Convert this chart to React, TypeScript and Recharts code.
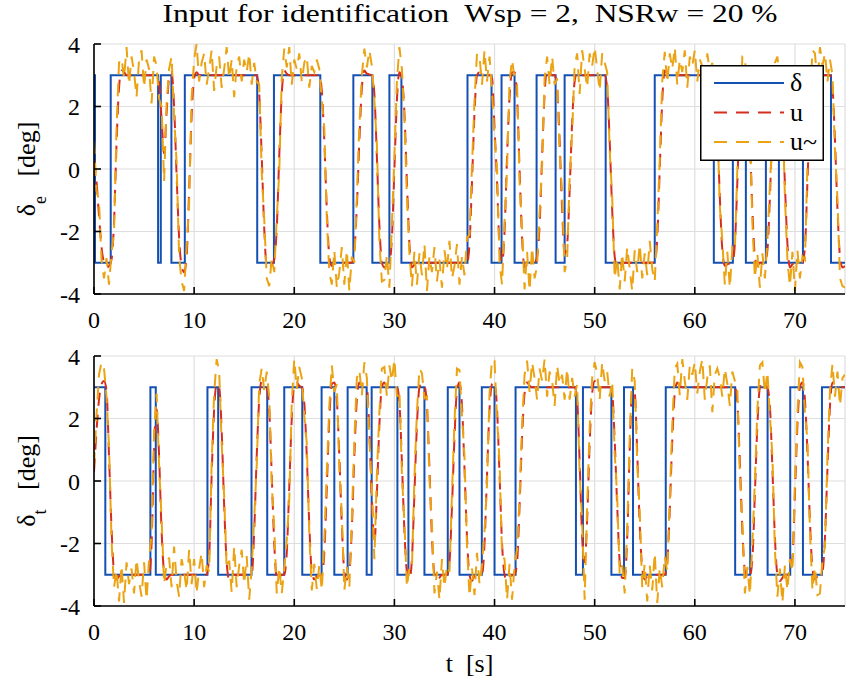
import { LineChart, Line, XAxis, YAxis, CartesianGrid } from 'recharts';

const FONT = "'Liberation Serif', 'Times New Roman', 'DejaVu Serif', serif";
const BLUE = '#1450b4';
const RED = '#d62d1c';
const ORANGE = '#eca313';
const GRID = '#dedede';
const DASH = '13 9';

const TIME_TICKS = [0, 10, 20, 30, 40, 50, 60, 70];
const DEG_TICKS = [-4, -2, 0, 2, 4];
const NOISE_DT = 0.25; // sample step of the noisy input

// delta_e : [switch time, level]
const deltaE = [
  [0, 3], [0.1, -3], [1.67, 3], [6.4, -3], [6.67, 3], [7.73, -3], [9.07, 3], [16.3, -3],
  [17.97, 3], [22.6, -3], [25.9, 3], [27.8, -3], [29.5, 3], [30.7, -3], [37.3, 3], [39.7, -3],
  [40.7, 3], [42.0, -3], [44.2, 3], [46.1, -3], [47.0, 3], [51.1, -3], [56.0, 3], [61.9, -3],
  [63.8, 3], [65.1, -3], [67.1, 3], [68.4, -3], [70.8, 3], [73.6, -3], [75, -3],
];

// u (elevator), [t, value]
const uE = [
  [0, 0.3], [0.25, -0.4], [0.5, -1.5], [0.75, -2.5], [1, -3.0], [1.25, -3.15], [1.5, -3.1], [1.75, -2.9],
  [2, -1.7], [2.25, 0.8], [2.5, 2.6], [2.75, 3.15], [3, 3.1], [3.25, 3.0], [6.25, 3.0], [6.5, 2.75],
  [6.75, 1.6], [7, 0.5], [7.25, 1.8], [7.5, 2.9], [7.75, 3.1], [8, 2.0], [8.25, -0.2], [8.5, -2.2],
  [8.75, -3.1], [9, -3.3], [9.25, -2.8], [9.5, -0.7], [9.75, 1.7], [10, 2.9], [10.25, 3.1], [10.5, 3.0],
  [16.25, 3.0], [16.5, 2.4], [16.75, 0.4], [17, -1.9], [17.25, -3.1], [17.5, -3.15], [17.75, -3.05], [18, -2.9],
  [18.25, -1.9], [18.5, 0.4], [18.75, 2.4], [19, 3.15], [19.25, 3.05], [19.5, 3.0], [22.5, 3.0], [22.75, 2.5],
  [23, 0.9], [23.25, -1.3], [23.5, -2.8], [23.75, -3.1], [24, -3.0], [25.75, -3.0], [26, -2.6], [26.25, -1.2],
  [26.5, 0.9], [26.75, 2.6], [27, 3.15], [27.25, 3.05], [27.75, 3.0], [28, 2.4], [28.25, 0.4], [28.5, -1.8],
  [28.75, -3.0], [29, -3.15], [29.25, -3.05], [29.5, -3.0], [29.75, -2.2], [30, 0.0], [30.25, 2.2], [30.5, 3.1],
  [30.75, 2.9], [31, 1.8], [31.25, -0.4], [31.5, -2.4], [31.75, -3.15], [32, -3.05], [32.25, -3.0], [37.25, -3.0],
  [37.5, -2.4], [37.75, -0.4], [38, 1.8], [38.25, 3.0], [38.5, 3.1], [38.75, 3.0], [39.5, 3.0], [39.75, 2.9],
  [40, 1.3], [40.25, -0.4], [40.5, -2.5], [40.75, -3.0], [41, -2.0], [41.25, 0.4], [41.5, 2.3], [41.75, 3.1],
  [42, 3.1], [42.25, 2.3], [42.5, 0.0], [42.75, -2.2], [43, -3.15], [43.25, -3.05], [43.5, -3.0], [44, -3.0],
  [44.25, -2.8], [44.5, -1.8], [44.75, 0.4], [45, 2.4], [45.25, 3.2], [45.5, 3.1], [45.75, 3.0], [46, 3.0],
  [46.25, 2.6], [46.5, 0.9], [46.75, -1.3], [47, -2.7], [47.25, -2.4], [47.5, -0.7], [47.75, 1.5], [48, 2.8],
  [48.25, 3.1], [48.5, 3.0], [51, 3.0], [51.25, 2.6], [51.5, 0.9], [51.75, -1.3], [52, -2.8], [52.25, -3.15],
  [52.5, -3.05], [52.75, -3.0], [56, -3.0], [56.25, -2.2], [56.5, 0.0], [56.75, 2.2], [57, 3.15], [57.25, 3.05],
  [57.5, 3.0], [61.75, 3.0], [62, 2.7], [62.25, 1.3], [62.5, -0.9], [62.75, -2.6], [63, -3.1], [63.25, -3.05],
  [63.75, -3.0], [64, -2.4], [64.25, -0.4], [64.5, 1.8], [64.75, 3.0], [65, 3.1], [65.25, 2.6], [65.5, 0.9],
  [65.75, -1.3], [66, -2.8], [66.25, -3.1], [66.5, -3.0], [67, -3.0], [67.25, -2.6], [67.5, -0.9], [67.75, 1.3],
  [68, 2.8], [68.25, 3.1], [68.5, 2.9], [68.75, 1.6], [69, -0.5], [69.25, -2.4], [69.5, -3.15], [69.75, -3.05],
  [70, -3.0], [70.75, -3.0], [71, -2.5], [71.25, -0.4], [71.5, 1.8], [71.75, 3.0], [72, 3.1], [72.25, 3.0],
  [73.5, 3.0], [73.75, 2.6], [74, 0.9], [74.25, -1.3], [74.5, -2.8], [74.75, -3.15], [75, -3.1],
];

// u~ (elevator), one row = 2.5 s
const uNoisyE = [
  [0.9, -0.7, -1.0, -2.9, -3.5, -2.85, -3.7, -2.7, -2.0, 1.3],
  [3.4, 3.55, 2.9, 3.9, 2.7, 3.6, 3.1, 2.3, 3.5, 3.8],
  [2.6, 3.5, 3.2, 2.1, 3.6, 3.3, 2.25, 2.0, -0.4, 2.1],
  [3.2, 3.6, 1.7, 0.2, -2.8, -3.6, -3.9, -2.5, -1.1, 2.3],
  [3.5, 4.0, 2.8, 3.4, 3.7, 2.7, 3.2, 3.8, 2.5, 3.3],
  [3.6, 2.6, 3.2, 3.9, 2.9, 3.5, 2.3, 3.3, 3.6, 2.8],
  [3.5, 3.1, 3.7, 2.7, 3.4, 2.8, 2.7, -0.1, -1.6, -3.5],
  [-3.75, -2.85, -3.3, -1.6, -0.1, 2.9, 3.85, 3.25, 3.9, 2.7],
  [3.5, 3.2, 3.7, 2.8, 3.4, 3.6, 2.6, 3.3, 3.1, 3.5],
  [3.2, 2.2, 1.3, -1.6, -3.3, -3.7, -2.6, -3.8, -3.3, -2.5],
  [-3.7, -2.6, -3.9, -2.8, -3.0, -0.9, 1.4, 3.0, 3.85, 3.25],
  [3.8, 3.3, 2.2, 0.8, -2.3, -3.6, -3.55, -2.75, -3.8, -1.8],
  [0.4, 2.8, 3.9, 3.2, 1.6, -0.9, -2.7, -3.75, -2.65, -3.7],
  [-2.7, -3.4, -2.4, -3.9, -2.8, -3.3, -2.5, -3.6, -2.9, -3.8],
  [-2.6, -3.2, -2.3, -3.5, -3.1, -2.4, -3.7, -2.8, -3.4, -2.2],
  [-2.1, 0.1, 2.2, 3.7, 3.6, 2.7, 3.8, 2.8, 3.6, 2.5],
  [1.0, 0.0, -3.0, -3.7, -1.7, 0.0, 2.8, 3.5, 2.9, 2.7],
  [-0.4, -1.9, -3.85, -2.65, -3.9, -2.5, -3.5, -3.1, -1.4, 0.1],
  [2.9, 3.6, 2.7, 3.6, 2.7, 2.9, 0.5, -0.8, -3.3, -2.9],
  [-0.3, 1.2, 3.3, 3.7, 2.4, 3.8, 3.2, 2.6, 3.7, 3.3],
  [3.9, 3.2, 2.5, 3.7, 3.4, 3.1, 0.6, -0.9, -3.5, -2.85],
  [-3.85, -2.7, -3.6, -2.5, -3.2, -3.9, -2.6, -3.3, -2.4, -3.5],
  [-2.7, -3.4, -2.3, -3.2, -3.6, -1.8, 0.3, 2.8, 3.75, 2.75],
  [3.7, 3.2, 3.9, 2.7, 3.5, 3.1, 3.8, 2.6, 3.6, 3.3],
  [3.8, 2.8, 3.5, 3.3, 2.5, 3.7, 3.1, 3.4, 2.4, 1.5],
  [-1.2, -2.3, -3.7, -2.65, -3.8, -2.5, -2.6, 0.0, 1.4, 3.6],
  [3.6, 2.3, 1.3, -1.7, -3.5, -2.7, -3.8, -2.7, -3.5, -2.3],
  [-0.5, 1.0, 3.4, 3.6, 2.6, 2.0, -0.9, -2.9, -3.75, -2.65],
  [-3.9, -2.6, -3.5, -2.8, -2.9, 0.1, 2.1, 3.8, 3.7, 2.7],
  [3.9, 3.3, 3.7, 2.8, 3.5, 3.0, 0.6, -1.0, -3.5, -3.75],
  [-3.8],
];

// delta_t : [switch time, level]
const deltaT = [
  [0, 3], [1.13, -3], [5.63, 3], [6.17, -3], [11.33, 3], [12.4, -3], [15.73, 3], [17.3, -3],
  [19.0, 3], [20.8, -3], [22.73, 3], [24.0, -3], [25.33, 3], [27.23, -3], [27.73, 3], [30.3, -3],
  [31.4, 3], [33.0, -3], [35.33, 3], [36.5, -3], [38.73, 3], [40.0, -3], [42.1, 3], [48.13, -3],
  [48.83, 3], [51.67, -3], [52.93, 3], [53.83, -3], [57.1, 3], [64.03, -3], [65.53, 3], [67.27, -3],
  [69.53, 3], [70.8, -3], [72.7, 3], [75, 3],
];

const uT = [
  [0, 0.3], [0.25, 1.6], [0.5, 2.6], [0.75, 3.1], [1, 3.2], [1.25, 2.9], [1.5, 0.8], [1.75, -1.5],
  [2, -2.9], [2.25, -3.15], [2.5, -3.05], [2.75, -3.0], [5.5, -3.0], [5.75, -2.0], [6, 1.0], [6.25, 2.3],
  [6.5, 0.8], [6.75, -1.6], [7, -2.9], [7.25, -3.15], [7.5, -3.05], [7.75, -3.0], [11.25, -3.0], [11.5, -2.4],
  [11.75, 0.2], [12, 2.3], [12.25, 3.1], [12.5, 3.0], [12.75, 1.6], [13, -0.8], [13.25, -2.6], [13.5, -3.15],
  [13.75, -3.05], [14, -3.0], [15.75, -3.0], [16, -1.6], [16.25, 0.8], [16.5, 2.6], [16.75, 3.2], [17, 3.1],
  [17.25, 3.0], [17.5, 2.3], [17.75, 0.2], [18, -2.0], [18.25, -3.1], [18.5, -3.15], [18.75, -3.0], [19, -3.0],
  [19.25, -2.3], [19.5, -0.2], [19.75, 2.0], [20, 3.1], [20.25, 3.15], [20.5, 3.05], [20.75, 3.0], [21, 2.5],
  [21.25, 0.8], [21.5, -1.4], [21.75, -2.9], [22, -3.15], [22.25, -3.05], [22.75, -3.0], [23, -2.3], [23.25, -0.2],
  [23.5, 2.0], [23.75, 3.1], [24, 3.15], [24.25, 2.6], [24.5, 0.8], [24.75, -1.4], [25, -2.9], [25.25, -3.15],
  [25.5, -2.9], [25.75, -1.5], [26, 0.8], [26.25, 2.6], [26.5, 3.15], [26.75, 3.05], [27.25, 3.0], [27.5, 1.6],
  [27.75, -0.6], [28, -2.0], [28.25, -0.4], [28.5, 1.8], [28.75, 3.0], [29, 3.15], [29.25, 3.0], [30.25, 3.0],
  [30.5, 2.5], [30.75, 0.6], [31, -1.6], [31.25, -2.9], [31.5, -3.15], [31.75, -2.5], [32, -0.4], [32.25, 1.8],
  [32.5, 3.0], [32.75, 3.15], [33, 3.05], [33.25, 2.4], [33.5, 0.4], [33.75, -1.8], [34, -3.0], [34.25, -3.2],
  [34.5, -3.1], [34.75, -3.0], [35.25, -3.0], [35.5, -2.6], [35.75, -0.8], [36, 1.4], [36.25, 2.9], [36.5, 3.15],
  [36.75, 2.4], [37, 0.4], [37.25, -1.8], [37.5, -3.0], [37.75, -3.2], [38, -3.05], [38.75, -3.0], [39, -2.0],
  [39.25, 0.2], [39.5, 2.3], [39.75, 3.1], [40, 3.15], [40.25, 2.3], [40.5, 0.2], [40.75, -2.0], [41, -3.0],
  [41.25, -3.2], [41.5, -3.05], [42, -3.0], [42.25, -2.6], [42.5, -0.8], [42.75, 1.4], [43, 2.8], [43.25, 3.15],
  [43.5, 3.05], [43.75, 3.0], [48, 3.0], [48.25, 2.6], [48.5, 0.6], [48.75, -1.8], [49, -2.6], [49.25, -1.2],
  [49.5, 1.2], [49.75, 2.8], [50, 3.2], [50.25, 3.05], [50.5, 3.0], [51.5, 3.0], [51.75, 2.8], [52, 1.3],
  [52.25, -0.8], [52.5, -2.6], [52.75, -3.1], [53, -3.1], [53.25, -1.8], [53.5, 1.0], [53.75, 2.9], [54, 2.8],
  [54.25, 0.9], [54.5, -1.4], [54.75, -2.8], [55, -3.15], [55.25, -3.05], [55.5, -3.0], [57, -3.0], [57.25, -2.6],
  [57.5, -0.9], [57.75, 1.3], [58, 2.8], [58.25, 3.15], [58.5, 3.05], [58.75, 3.0], [64, 3.0], [64.25, 2.5],
  [64.5, 0.6], [64.75, -1.6], [65, -2.9], [65.25, -3.15], [65.5, -3.05], [65.75, -2.5], [66, -0.4], [66.25, 1.8],
  [66.5, 3.0], [66.75, 3.2], [67, 3.1], [67.25, 3.0], [67.5, 2.4], [67.75, 0.4], [68, -1.8], [68.25, -3.0],
  [68.5, -3.2], [68.75, -3.1], [69, -3.0], [69.5, -3.0], [69.75, -2.5], [70, -0.4], [70.25, 1.8], [70.5, 3.0],
  [70.75, 3.15], [71, 2.6], [71.25, 0.9], [71.5, -1.3], [71.75, -2.8], [72, -3.15], [72.25, -3.05], [72.5, -3.0],
  [72.75, -2.9], [73, -1.8], [73.25, 0.4], [73.5, 2.4], [73.75, 3.15], [74, 3.1], [74.25, 3.0], [75, 3.0],
];

const uNoisyT = [
  [0.5, 2.1, 3.4, 3.8, 3.6, 2.7, 1.1, -1.9, -3.4, -2.85],
  [-3.85, -2.7, -3.9, -2.6, -3.3, -2.8, -3.6, -2.5, -3.2, -3.7],
  [-2.6, -3.8, -2.5, -1.7, 1.6, 2.8, 0.5, -1.2, -3.3, -2.65],
  [-2.45, -3.4, -2.1, -3.2, -3.7, -2.5, -2.9, -3.5, -2.2, -3.3],
  [-2.5, -3.6, -2.8, -2.3, -3.4, -2.7, -2.9, 0.6, 2.8, 3.9],
  [3.5, 1.2, -0.5, -2.8, -2.55, -3.55, -2.1, -3.4, -2.7, -2.2],
  [-3.3, -2.4, -3.8, -2.8, -1.2, 0.5, 3.1, 3.6, 2.9, 3.5],
  [2.7, -0.1, -1.5, -3.6, -2.75, -3.6, -2.8, -1.9, -0.6, 2.5],
  [3.9, 2.95, 3.65, 3.3, 2.1, 1.2, -1.7, -3.5, -2.65, -3.45],
  [-2.7, -3.5, -1.9, 0.3, 2.4, 3.7, 2.85, 3.1, 0.4, -1.1],
  [-3.5, -2.75, -3.4, -1.2, 1.3, 3.3, 3.55, 2.75, 3.8, 3.3],
  [1.3, -0.2, -2.5, 0.2, 2.2, 3.6, 3.65, 2.7, 3.7, 3.2],
  [3.9, 2.7, 2.9, 0.2, -1.3, -3.4, -2.75, -2.8, 0.1, 2.2],
  [3.6, 3.45, 2.65, 2.7, 0.1, -1.4, -3.6, -2.9, -3.8, -2.5],
  [-3.4, -2.7, -2.9, -0.4, 1.9, 3.6, 3.55, 2.1, 0.8, -2.1],
  [-3.7, -2.8, -3.65, -2.3, -3.3, -2.7, -1.6, -0.1, 2.8, 3.9],
  [3.85, 2.0, 0.6, -2.4, -2.5, -3.8, -2.65, -3.8, -2.7, -2.2],
  [-0.5, 1.8, 3.4, 3.85, 2.85, 3.8, 3.3, 2.6, 3.6, 3.2],
  [3.9, 2.7, 3.5, 3.2, 2.4, 3.7, 3.1, 3.4, 2.6, 3.6],
  [2.6, 3.3, 2.7, 3.1, 0.2, -1.3, -3.8, -0.8, 1.7, 3.3],
  [3.8, 3.45, 2.6, 3.8, 3.2, 3.5, 2.7, 3.2, 0.9, -0.5],
  [-3.0, -2.7, -3.6, -1.5, 1.4, 3.6, 3.2, 0.6, -1.0, -3.4],
  [-2.65, -3.85, -2.7, -3.5, -2.3, -3.9, -2.8, -3.4, -2.4, -2.9],
  [-0.6, 1.8, 3.6, 3.75, 2.75, 3.9, 3.2, 2.6, 3.7, 3.4],
  [3.8, 2.8, 3.5, 3.9, 2.6, 3.3, 3.7, 2.2, 3.4, 3.6],
  [3.3, 2.7, 3.6, 3.1, 2.4, 3.5, 3.2, 2.9, 0.2, -1.3],
  [-3.6, -2.75, -3.65, -2.0, 0.0, 2.3, 3.7, 3.8, 2.8, 3.5],
  [2.1, 0.8, -2.2, -3.7, -2.8, -3.9, -2.7, -3.5, -2.5, -2.9],
  [0.0, 2.2, 3.8, 3.65, 2.2, 1.3, -1.6, -3.5, -2.75, -3.65],
  [-3.6, -2.5, -2.1, 0.8, 2.9, 3.75, 2.7, 3.5, 2.4, 3.3],
  [3.4],
];

const pairs = (list: number[][]) => list.map(([t, v]) => ({ t, v }));
const sampled = (rows: number[][]) => rows.flat().map((v, i) => ({ t: i * NOISE_DT, v }));

const tickStyle = { fontSize: 24, fill: '#000', fontFamily: FONT };

function YTitle({ y, sub }: { y: number; sub: string }) {
  return (
    <text
      transform={`translate(35,${y}) rotate(-90)`}
      textAnchor="middle"
      fontFamily={FONT}
      fontSize={26}
      fill="#000"
      style={{ whiteSpace: 'pre' }}
    >
      <tspan>δ</tspan>
      <tspan fontSize={18} dy={11}>{sub}</tspan>
      <tspan dy={-11}>{'   [deg]'}</tspan>
    </text>
  );
}

function Panel({ delta, u, noisy, sub, height, top, axisHeight, xLabel }: {
  delta: number[][]; u: number[][]; noisy: number[][]; sub: string;
  height: number; top: number; axisHeight: number; xLabel?: boolean;
}) {
  const plotMid = top + 125;
  return (
    <LineChart width={850} height={height} margin={{ top, right: 5, bottom: 0, left: 0 }}>
      <CartesianGrid stroke={GRID} strokeWidth={1.2} />
      <XAxis
        type="number" dataKey="t" domain={[0, 75]} ticks={TIME_TICKS} allowDataOverflow
        height={axisHeight} stroke="#000" strokeWidth={1.6} tickSize={-7} tickMargin={24} tick={tickStyle}
        label={xLabel ? {
          content: () => (
            <text x={469.5} y={top + 250 + 66} textAnchor="middle" fontFamily={FONT} fontSize={26} fill="#000" style={{ whiteSpace: 'pre' }}>
              {'t  [s]'}
            </text>
          ),
        } : undefined}
      />
      <XAxis
        xAxisId="top" orientation="top" type="number" domain={[0, 75]} ticks={TIME_TICKS} allowDataOverflow
        height={0} stroke="#000" strokeWidth={1.6} tickSize={-7} tick={false}
      />
      <YAxis
        type="number" domain={[-4, 4]} ticks={DEG_TICKS} allowDataOverflow width={94}
        stroke="#000" strokeWidth={1.6} tickSize={-7} tickMargin={21} tick={tickStyle}
        label={{ content: () => <YTitle y={plotMid} sub={sub} /> }}
      />
      <YAxis
        yAxisId="right" orientation="right" type="number" domain={[-4, 4]} ticks={DEG_TICKS} allowDataOverflow
        width={0} stroke="#000" strokeWidth={1.6} tickSize={-7} tick={false}
      />
      <Line data={pairs(delta)} dataKey="v" type="stepAfter" stroke={BLUE} strokeWidth={2} dot={false} activeDot={false} isAnimationActive={false} />
      <Line data={pairs(u)} dataKey="v" type="monotone" stroke={RED} strokeWidth={2} strokeDasharray={DASH} dot={false} activeDot={false} isAnimationActive={false} />
      <Line data={sampled(noisy)} dataKey="v" type="linear" stroke={ORANGE} strokeWidth={2} strokeDasharray={DASH} dot={false} activeDot={false} isAnimationActive={false} />
    </LineChart>
  );
}

function LegendBox() {
  const rows = [
    { label: 'δ', color: BLUE, dash: undefined },
    { label: 'u', color: RED, dash: DASH },
    { label: 'u~', color: ORANGE, dash: DASH },
  ];
  return (
    <svg width={124} height={96} style={{ position: 'absolute', left: 700, top: 65 }}>
      <rect x={0.75} y={0.75} width={122.5} height={94.5} fill="#fff" stroke="#000" strokeWidth={1.5} />
      {rows.map((r, i) => (
        <g key={r.label}>
          <line x1={14} x2={84} y1={18 + i * 29.5} y2={18 + i * 29.5} stroke={r.color} strokeWidth={2} strokeDasharray={r.dash} />
          <text x={90} y={26 + i * 29.5} fontFamily={FONT} fontSize={26} fill="#000">{r.label}</text>
        </g>
      ))}
    </svg>
  );
}

export default function App() {
  return (
    <div style={{ position: 'absolute', left: 0, top: 0, width: 850, height: 686, background: '#fff', fontFamily: FONT }}>
      <div
        style={{
          position: 'absolute', left: 94, top: -1, width: 751, textAlign: 'center', fontSize: 26,
          lineHeight: '30px', whiteSpace: 'pre', color: '#000', transform: 'scaleX(1.21)', transformOrigin: '373px 50%',
        }}
      >
        {'Input for identification  Wsp = 2,  NSRw = 20 %'}
      </div>
      <div style={{ position: 'absolute', left: 0, top: 0 }}>
        <Panel delta={deltaE} u={uE} noisy={uNoisyE} sub="e" height={345} top={44} axisHeight={51} />
      </div>
      <div style={{ position: 'absolute', left: 0, top: 330 }}>
        <Panel delta={deltaT} u={uT} noisy={uNoisyT} sub="t" height={356} top={26} axisHeight={80} xLabel />
      </div>
      <LegendBox />
    </div>
  );
}
